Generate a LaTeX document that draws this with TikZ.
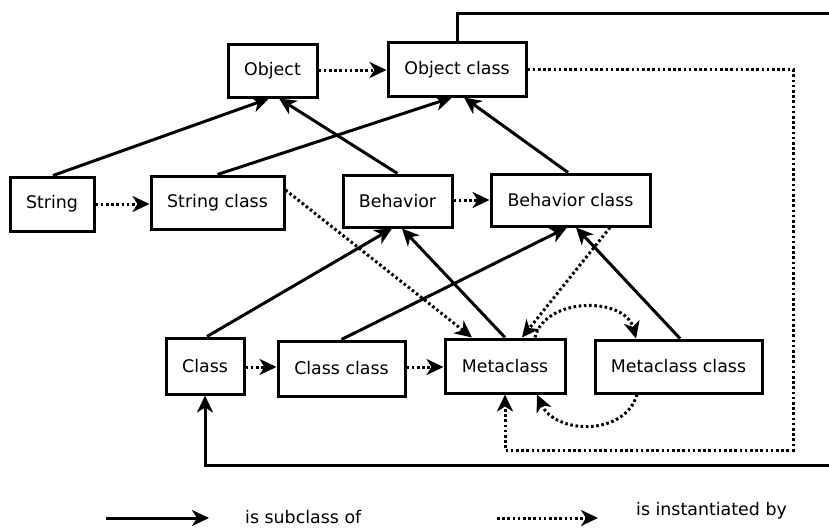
\documentclass[tikz,border=0pt]{standalone}
\usepackage{fontspec}
\setmainfont{DejaVu Sans}
\usetikzlibrary{arrows.meta,calc}
\begin{document}
\begin{tikzpicture}[x=1pt,y=-1pt,
  box/.style={draw,line width=3pt,inner sep=0pt,font=\fontsize{17.4}{20}\selectfont},
  sub/.style={line width=3pt,-{Stealth[length=17pt,width=16pt,inset=5pt]}},
  inst/.style={line width=3pt,dash pattern=on 2.6pt off 2.6pt,-{Stealth[length=17pt,width=16pt,inset=5pt]}},
  lbl/.style={font=\fontsize{17.4}{20}\selectfont,inner sep=0pt,anchor=west}]
\useasboundingbox (0,0) rectangle (829,527);
% boxes
\node[box,minimum width=89pt,minimum height=52pt] (obj) at (272.5,71) {Object};
\node[box,minimum width=138pt,minimum height=53pt] (objc) at (457,69.5) {Object class};
\node[box,minimum width=84pt,minimum height=54pt] (str) at (52,204) {String};
\node[box,minimum width=133pt,minimum height=53pt] (strc) at (217.5,202.5) {String class};
\node[box,minimum width=109pt,minimum height=52pt] (beh) at (397.5,201) {Behavior};
\node[box,minimum width=159pt,minimum height=52pt] (behc) at (570.5,200) {Behavior class};
\node[box,minimum width=78pt,minimum height=56pt] (cls) at (205,366) {Class};
\node[box,minimum width=127pt,minimum height=55pt] (clsc) at (341.5,368.5) {Class class};
\node[box,minimum width=120pt,minimum height=54pt] (meta) at (505,366) {Metaclass};
\node[box,minimum width=167pt,minimum height=53pt] (metac) at (678.5,366.5) {Metaclass class};
% subclass arrows
\draw[sub] ([xshift=1pt]str.north) -- ([xshift=-3.5pt]obj.south);
\draw[sub] (beh.north) -- ([xshift=6.5pt]obj.south);
\draw[sub] (strc.north) -- ([xshift=-5pt]objc.south);
\draw[sub] ([xshift=-2.5pt]behc.north) -- ([xshift=7pt]objc.south);
\draw[sub] ([xshift=2pt]cls.north) -- ([xshift=-5.5pt]beh.south);
\draw[sub] (meta.north) -- ([xshift=4.5pt]beh.south);
\draw[sub] (clsc.north) -- ([xshift=-3.5pt]behc.south);
\draw[sub] ([xshift=1.5pt]metac.north) -- ([xshift=5.5pt]behc.south);
% instantiation arrows
\draw[inst] (obj.east |- 0,70) -- (objc.west |- 0,70);
\draw[inst] (str.east) -- (strc.west |- str.east);
\draw[inst] (beh.east |- 0,200) -- (behc.west |- 0,200);
\draw[inst] (cls.east |- 0,367) -- (clsc.west |- 0,367);
\draw[inst] (clsc.east |- 0,367) -- (meta.west |- 0,367);
\draw[inst] ([yshift=12.5pt]strc.east) -- ([xshift=-33pt]meta.north);
\draw[inst] ([xshift=39.5pt]behc.south) -- ([xshift=17pt]meta.north);
\draw[inst] ([xshift=30pt]meta.north) .. controls +(10,-41) and +(-11,-42) .. ([xshift=-42.5pt]metac.north);
\draw[inst] ([xshift=-41.5pt]metac.south) .. controls +(-12,42) and +(18,40) .. ([xshift=32pt]meta.south);
\coordinate (rc) at (793,450);
\draw[inst] (objc.east) -| (rc) -| (meta.south);
% long solid connector
\coordinate (e1) at (829,14);
\coordinate (e2) at (829,465);
\draw[line width=3pt] (objc.north) |- (e1);
\draw[sub] (e2) -| (cls.south);
% legend
\coordinate (la) at (106,518);
\coordinate (lb) at (209,518);
\draw[sub] (la) -- (lb);
\node[lbl] (lt1) at (245,517) {is subclass of};
\coordinate (lc) at (497,518);
\coordinate (ld) at (598,518);
\draw[inst] (lc) -- (ld);
\node[lbl] (lt2) at (636,511) {is instantiated by};
\end{tikzpicture}
\end{document}
